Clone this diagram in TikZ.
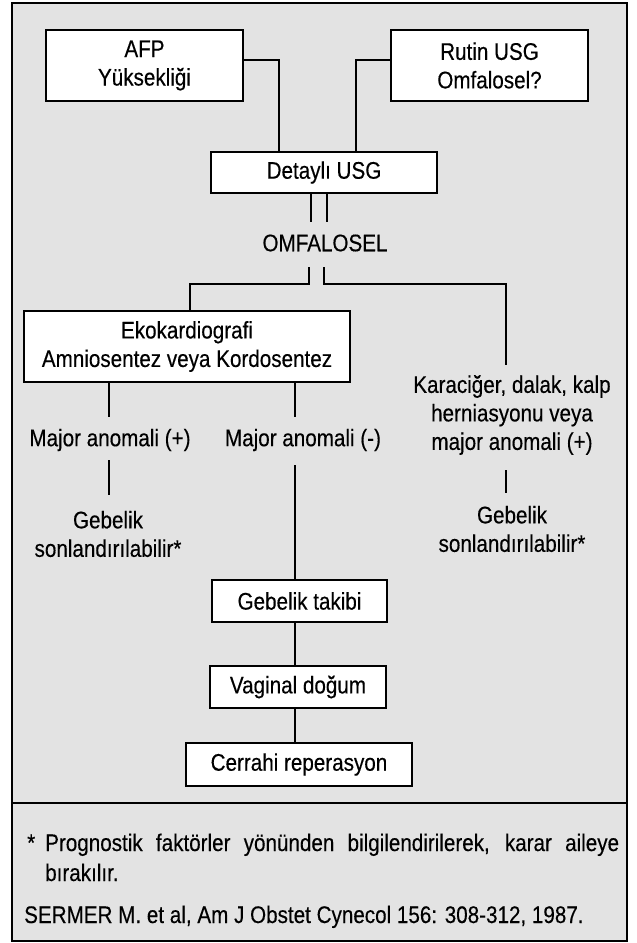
\documentclass[tikz,border=0pt]{standalone}
\usepackage{fontspec}
\setmainfont{Liberation Sans}[FakeStretch=0.86,FakeBold=0.3]
\newcommand{\fs}{\fontsize{24}{28.5}\selectfont}
\begin{document}
\begin{tikzpicture}[x=1pt,y=-1pt,
  box/.style={draw=black,line width=1.3pt,fill=white,inner sep=0pt,align=center,font=\fs},
  lbl/.style={inner sep=0pt,align=center,font=\fs},
  conn/.style={line width=1.2pt},
  frame/.style={line width=1.4pt}]
\useasboundingbox (0,0) rectangle (637,943);
\fill[white] (0,0) rectangle (637,943);
\draw[frame, fill=black!11] (12,3) rectangle (627,941);
\draw[frame] (12,803) -- (627,803);
% boxes
\node[box, minimum width=197pt, minimum height=71pt] (afp) at (144.5,65.5) {AFP\\Yüksekliği};
\node[box, minimum width=197pt, minimum height=71pt] (rutin) at (489.5,65.5) {Rutin USG\\Omfalosel?};
\node[box, minimum width=226pt, minimum height=41pt] (det) at (324,172.5) {Detaylı USG};
\node[lbl] (omf) at (325,243) {OMFALOSEL};
\node[box, minimum width=326pt, minimum height=71pt] (eko) at (187,346.5) {Ekokardiografi\\Amniosentez veya Kordosentez};
\node[lbl] (mplus) at (110,440) {Major anomali (+)};
\node[lbl] (mminus) at (303,440) {Major anomali (-)};
\node[lbl] (karac) at (512,415) {Karaciğer, dalak, kalp\\herniasyonu veya\\major anomali (+)};
\node[lbl] (gebL) at (108,534) {Gebelik\\sonlandırılabilir*};
\node[lbl] (gebR) at (512,529) {Gebelik\\sonlandırılabilir*};
\node[box, minimum width=175pt, minimum height=42pt] (takip) at (299.5,601) {Gebelik takibi};
\node[box, minimum width=176pt, minimum height=42pt] (vag) at (298,687) {Vaginal doğum};
\node[box, minimum width=226pt, minimum height=43pt] (cer) at (299,764.5) {Cerrahi reperasyon};
% coordinates
\coordinate (afpJ) at (279,60);
\coordinate (rutJ) at (356,60);
\coordinate (dd1) at (311,222);
\coordinate (dd2) at (327,222);
\coordinate (ou1) at (309,267);
\coordinate (ou2) at (324,267);
\coordinate (lJ) at (190,284);
\coordinate (rJ) at (506,284);
\coordinate (rEnd) at (506,365);
\coordinate (e1) at (109,417);
\coordinate (e2) at (295,417);
\coordinate (l1a) at (109,460);
\coordinate (l1b) at (109,495);
\coordinate (r1a) at (506,470);
\coordinate (r1b) at (506,493);
\coordinate (m1) at (295,465);
% connectors
\draw[conn] (afp.east |- afpJ) -- (afpJ) -- (afpJ |- det.north);
\draw[conn] (rutin.west |- rutJ) -- (rutJ) -- (rutJ |- det.north);
\draw[conn] (dd1 |- det.south) -- (dd1);
\draw[conn] (dd2 |- det.south) -- (dd2);
\draw[conn] (ou1) -- (ou1 |- lJ) -- (lJ) -- (lJ |- eko.north);
\draw[conn] (ou2) -- (ou2 |- rJ) -- (rJ) -- (rEnd);
\draw[conn] (e1 |- eko.south) -- (e1);
\draw[conn] (e2 |- eko.south) -- (e2);
\draw[conn] (l1a) -- (l1b);
\draw[conn] (r1a) -- (r1b);
\draw[conn] (m1) -- (m1 |- takip.north);
\draw[conn] (m1 |- takip.south) -- (m1 |- vag.north);
\draw[conn] (m1 |- vag.south) -- (m1 |- cer.north);
% footnotes
\node[inner sep=0pt, anchor=base west, font=\fs] (star) at (27,851) {*};
\node[inner sep=0pt, anchor=base west, font=\fs] (fn1) at (45,851) {\makebox[574pt][s]{Prognostik faktörler yönünden bilgilendirilerek, karar aileye}};
\node[inner sep=0pt, anchor=base west, font=\fs] (fn2) at (45,881) {bırakılır.};
\node[inner sep=0pt, anchor=base west, font=\fs] (ref) at (24,923) {SERMER M. et al, Am J Obstet Cynecol 156: 308-312, 1987.};
\end{tikzpicture}
\end{document}
